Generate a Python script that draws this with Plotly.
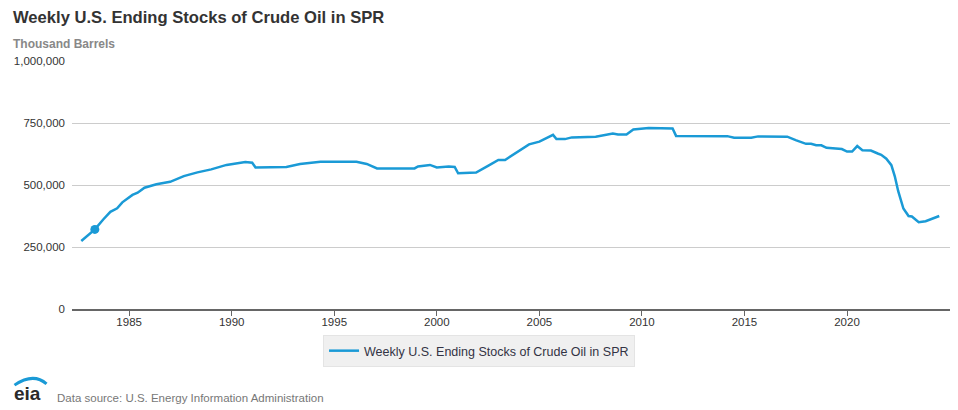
import plotly.graph_objects as go

# Data (thousand barrels)
dates = [
    "1982-09-01", "1983-05-01", "1983-10-01", "1984-02-01", "1984-06-01", "1984-09-01",
    "1985-03-01", "1985-06-01", "1985-10-01", "1986-05-01", "1987-01-01", "1987-09-01",
    "1988-05-01", "1989-01-01", "1989-10-01", "1990-09-01", "1991-01-01", "1991-03-01",
    "1992-09-01", "1993-05-01", "1994-05-01", "1996-02-01", "1996-08-01", "1997-02-01",
    "1998-12-01", "1999-02-01", "1999-09-01", "2000-01-01", "2000-08-01", "2000-11-15",
    "2001-01-15", "2001-12-01", "2002-07-01", "2003-01-01", "2003-05-01", "2003-12-01",
    "2004-07-01", "2005-01-01", "2005-07-01", "2005-09-01", "2005-11-01", "2006-04-01",
    "2006-08-01", "2007-10-01", "2008-08-01", "2008-11-01", "2009-04-01", "2009-08-01",
    "2010-05-01", "2011-07-01", "2011-09-01", "2014-03-01", "2014-07-01", "2015-05-01",
    "2015-09-01", "2017-02-01", "2017-07-01", "2018-01-01", "2018-04-01", "2018-07-01",
    "2018-10-01", "2019-01-01", "2019-10-01", "2020-01-01", "2020-04-01", "2020-07-01",
    "2020-10-01", "2021-03-01", "2021-07-01", "2021-09-01", "2021-12-01", "2022-03-01",
    "2022-05-01", "2022-07-01", "2022-10-01", "2023-01-01", "2023-03-01", "2023-07-01",
    "2023-11-01", "2024-07-01",
]
stocks = [
    274000, 321000, 362000, 392000, 406000, 430000,
    460000, 469000, 489000, 503000, 513000, 536000,
    551000, 563000, 581000, 593000, 590000, 571000,
    573000, 585000, 594000, 594000, 585000, 567000,
    567000, 575000, 581000, 571000, 575000, 573000,
    547000, 550000, 577000, 601000, 601000, 634000,
    664000, 675000, 695000, 702000, 685000, 685000,
    692000, 695000, 708000, 704000, 704000, 724000,
    730000, 728000, 698000, 697000, 691000, 691000,
    696000, 695000, 681000, 666000, 666000, 660000,
    660000, 650000, 645000, 635000, 635000, 657000,
    640000, 639000, 627000, 622000, 606000, 580000,
    535000, 475000, 405000, 375000, 373000, 350000,
    354000, 375000,
]
highlight_date = ["1983-05-01"]
highlight_value = [321000]

series_name = "Weekly U.S. Ending Stocks of Crude Oil in SPR"
y_ticks = [0, 250000, 500000, 750000, 1000000]
y_tick_labels = ["0", "250,000", "500,000", "750,000", "1,000,000"]
x_ticks = ["1985-01-01", "1990-01-01", "1995-01-01", "2000-01-01",
           "2005-01-01", "2010-01-01", "2015-01-01", "2020-01-01"]
x_tick_labels = ["1985", "1990", "1995", "2000", "2005", "2010", "2015", "2020"]

blue = "#1a9ad6"
font_family = "Liberation Sans, Arial, sans-serif"

fig = go.Figure()
fig.add_trace(go.Scatter(
    x=dates, y=stocks, mode="lines", name=series_name,
    line=dict(color=blue, width=2.5, shape="linear"),
))
fig.add_trace(go.Scatter(
    x=highlight_date, y=highlight_value, mode="markers", showlegend=False,
    marker=dict(color=blue, size=9),
))

fig.update_layout(
    width=958, height=410,
    margin=dict(l=72, r=8, t=61, b=101),
    paper_bgcolor="white", plot_bgcolor="white",
    font=dict(family=font_family, size=11.5, color="#333333"),
    showlegend=True,
    legend=dict(
        orientation="h", x=0.4636, xanchor="center", y=-0.105, yanchor="top",
        bgcolor="#f0f0f0", bordercolor="#e4e4e4", borderwidth=1,
        font=dict(size=12.5, color="#333344"),
    ),
    xaxis=dict(
        type="date", range=["1982-03-20", "2025-01-08"],
        tickvals=x_ticks, ticktext=x_tick_labels,
        showgrid=False, showline=True, linecolor="#666666", linewidth=2,
        ticks="outside", ticklen=5, tickcolor="#666666", tickwidth=1,
        tickfont=dict(size=11.5, color="#333333"),
        ticklabelstandoff=-4,
        zeroline=False, fixedrange=True,
    ),
    yaxis=dict(
        range=[0, 1000000], tickvals=y_ticks, ticktext=y_tick_labels,
        showgrid=True, gridcolor="#cccccc", gridwidth=1,
        zeroline=False, showline=False,
        tickfont=dict(size=11.5, color="#333333"),
        ticklabelstandoff=6, fixedrange=True,
    ),
    annotations=[
        dict(text="<b>Weekly U.S. Ending Stocks of Crude Oil in SPR</b>",
             xref="paper", yref="paper", x=-0.0695, y=1.177, xanchor="left", yanchor="middle",
             showarrow=False, font=dict(size=16.6, color="#333333")),
        dict(text="<b>Thousand Barrels</b>",
             xref="paper", yref="paper", x=-0.0695, y=1.069, xanchor="left", yanchor="middle",
             showarrow=False, font=dict(size=12, color="#888888")),
        dict(text="Data source: U.S. Energy Information Administration",
             xref="paper", yref="paper", x=-0.0195, y=-0.359, xanchor="left", yanchor="middle",
             showarrow=False, font=dict(size=11.5, color="#777777")),
        dict(text="<b>eia</b>",
             xref="paper", yref="paper", x=-0.068, y=-0.342, xanchor="left", yanchor="middle",
             showarrow=False, font=dict(size=19, color="#2a2a2a", family="Liberation Sans, Arial, sans-serif")),
    ],
    shapes=[
        dict(type="path", xref="paper", yref="paper",
             path="M -0.0655,-0.307 Q -0.044,-0.255 -0.029,-0.302",
             line=dict(color=blue, width=3)),
    ],
)

fig.write_html("out.html", config={"displayModeBar": False},
               post_script="document.body.style.margin='0';document.body.style.overflow='hidden';")
